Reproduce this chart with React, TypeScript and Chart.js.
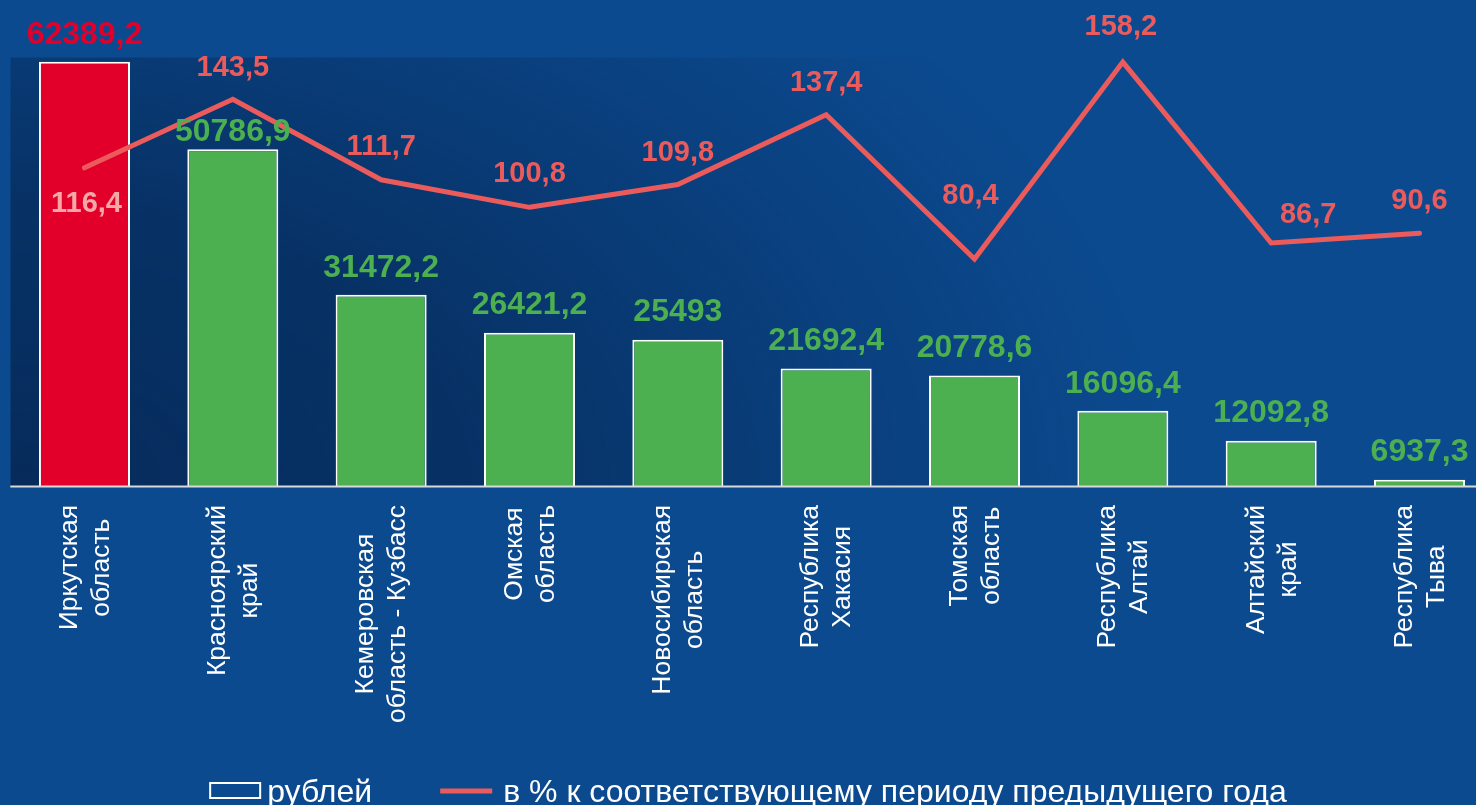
import React, { useEffect, useRef } from "react";
import { Chart, registerables } from "chart.js";

Chart.register(...registerables);

const categories: string[][] = [
  ["Иркутская", "область"],
  ["Красноярский", "край"],
  ["Кемеровская", "область - Кузбасс"],
  ["Омская", "область"],
  ["Новосибирская", "область"],
  ["Республика", "Хакасия"],
  ["Томская", "область"],
  ["Республика", "Алтай"],
  ["Алтайский", "край"],
  ["Республика", "Тыва"],
];

const rubles: number[] = [62389.2, 50786.9, 31472.2, 26421.2, 25493, 21692.4, 20778.6, 16096.4, 12092.8, 6937.3];
const percents: number[] = [116.4, 143.5, 111.7, 100.8, 109.8, 137.4, 80.4, 158.2, 86.7, 90.6];

const seriesNames: string[] = ["рублей", "в % к соответствующему периоду предыдущего года"];

// axis bounds
const rubMin = 6100;
const rubMax = 62960;
const pctMin = -9.3;
const pctMax = 160;

// label placement tweaks (pixels)
const barLabelLift: number[] = [18, 8, 18, 19, 19, 18, 18, 18, 19, 19];
const lineLabelDx: number[] = [2, 0, 0, 0, 0, 0, -4, -2, 37, 0];
const lineLabelDy: number[] = [44, -23, -25, -25, -24, -24, -55, -27, -20, -24];

const BG = "#0c4a8f";
const RED = "#e2002b";
const GREEN = "#4caf50";
const LINE = "#ec5b5b";
const FONT = "'Liberation Sans', Arial, sans-serif";

const W = 1500;
const H = 805;

const fmt = (v: number) => String(v).replace(".", ",");

const overlay = {
  id: "overlay",
  beforeDatasetsDraw(chart: any) {
    const { ctx, chartArea: ca } = chart;
    ctx.save();
    ctx.beginPath();
    ctx.rect(ca.left, ca.top, ca.right - ca.left, ca.bottom - ca.top);
    ctx.clip();
    ctx.translate(ca.left, ca.bottom);
    ctx.scale(1, 0.62);
    const g = ctx.createRadialGradient(0, 0, 0, 0, 0, 1150);
    g.addColorStop(0, "rgba(5,36,78,0.8)");
    g.addColorStop(0.4, "rgba(5,36,78,0.64)");
    g.addColorStop(0.75, "rgba(5,36,78,0.25)");
    g.addColorStop(1, "rgba(5,36,78,0)");
    ctx.fillStyle = g;
    ctx.fillRect(0, -1200, 1600, 1200);
    ctx.restore();
  },
  afterDatasetsDraw(chart: any) {
    const { ctx, chartArea: ca } = chart;
    const bars = chart.getDatasetMeta(0).data;
    const pts = chart.getDatasetMeta(1).data;
    ctx.save();
    // axis line
    ctx.strokeStyle = "#d9d9d9";
    ctx.lineWidth = 2;
    ctx.beginPath();
    ctx.moveTo(ca.left, ca.bottom + 0.5);
    ctx.lineTo(W, ca.bottom + 0.5);
    ctx.stroke();

    // bar value labels
    ctx.font = `bold 32px ${FONT}`;
    ctx.textAlign = "center";
    ctx.textBaseline = "alphabetic";
    bars.forEach((b: any, i: number) => {
      ctx.fillStyle = i === 0 ? RED : GREEN;
      ctx.fillText(fmt(rubles[i]), b.x, b.y - barLabelLift[i]);
    });

    // line value labels
    ctx.font = `bold 29px ${FONT}`;
    pts.forEach((p: any, i: number) => {
      ctx.fillStyle = i === 0 ? "#f6a8a8" : LINE;
      ctx.fillText(fmt(percents[i]), p.x + lineLabelDx[i], p.y + lineLabelDy[i]);
    });

    // category labels, rotated to read bottom-to-top
    ctx.font = `26.5px ${FONT}`;
    ctx.fillStyle = "#ffffff";
    ctx.textBaseline = "middle";
    const xScale = chart.scales.x;
    categories.forEach((lines, i) => {
      const x = xScale.getPixelForValue(i);
      const wMax = Math.max(...lines.map((l) => ctx.measureText(l).width));
      ctx.save();
      ctx.translate(x + 1, ca.bottom + 19);
      ctx.rotate(-Math.PI / 2);
      lines.forEach((l, j) => {
        ctx.fillText(l, -wMax / 2, (j - (lines.length - 1) / 2) * 32);
      });
      ctx.restore();
    });

    // legend
    ctx.font = `32px ${FONT}`;
    ctx.textBaseline = "alphabetic";
    ctx.textAlign = "left";
    const t1 = ctx.measureText(seriesNames[0]).width;
    const t2 = ctx.measureText(seriesNames[1]).width;
    const boxW = 52;
    const total = boxW + 6 + t1 + 68 + boxW + 11 + t2;
    let lx = 748 - total / 2;
    const baseY = 802;
    ctx.strokeStyle = "#ffffff";
    ctx.lineWidth = 2;
    ctx.strokeRect(lx + 1, 783, boxW - 2, 15);
    lx += boxW + 6;
    ctx.fillStyle = "#ffffff";
    ctx.fillText(seriesNames[0], lx, baseY);
    lx += t1 + 68;
    ctx.strokeStyle = LINE;
    ctx.lineWidth = 5;
    ctx.beginPath();
    ctx.moveTo(lx, 791);
    ctx.lineTo(lx + boxW, 791);
    ctx.stroke();
    lx += boxW + 11;
    ctx.fillText(seriesNames[1], lx, baseY);
    ctx.restore();
  },
};

export default function App() {
  const ref = useRef<HTMLCanvasElement>(null);
  useEffect(() => {
    document.body.style.overflow = "hidden";
    const canvas = ref.current;
    if (!canvas) return;
    const chart = new Chart(canvas, {
      type: "bar",
      data: {
        labels: categories.map((c) => c.join(" ")),
        datasets: [
          {
            type: "bar",
            label: seriesNames[0],
            data: rubles,
            backgroundColor: rubles.map((_, i) => (i === 0 ? RED : GREEN)),
            borderColor: "#ffffff",
            borderWidth: 2,
            borderSkipped: "start",
            barPercentage: 0.6135,
            categoryPercentage: 1,
            yAxisID: "y",
            order: 1,
          },
          {
            type: "line",
            label: seriesNames[1],
            data: percents,
            borderColor: LINE,
            backgroundColor: LINE,
            borderWidth: 5,
            borderCapStyle: "round",
            borderJoinStyle: "miter",
            pointRadius: 0,
            tension: 0,
            yAxisID: "y1",
            order: 0,
          },
        ],
      },
      options: {
        animation: false,
        responsive: false,
        devicePixelRatio: 1,
        layout: { padding: { left: 10.3, right: W - 1493.7, top: 57.5, bottom: H - 486 } },
        plugins: { legend: { display: false }, tooltip: { enabled: false } },
        scales: {
          x: { display: false, offset: true },
          y: { display: false, min: rubMin, max: rubMax },
          y1: { display: false, min: pctMin, max: pctMax },
        },
      },
      plugins: [overlay],
    });
    return () => chart.destroy();
  }, []);
  return (
    <div style={{ position: "fixed", left: 0, top: 0, width: W, height: H, background: BG, overflow: "hidden" }}>
      <canvas ref={ref} width={W} height={H} style={{ width: W, height: H, display: "block" }} />
    </div>
  );
}
